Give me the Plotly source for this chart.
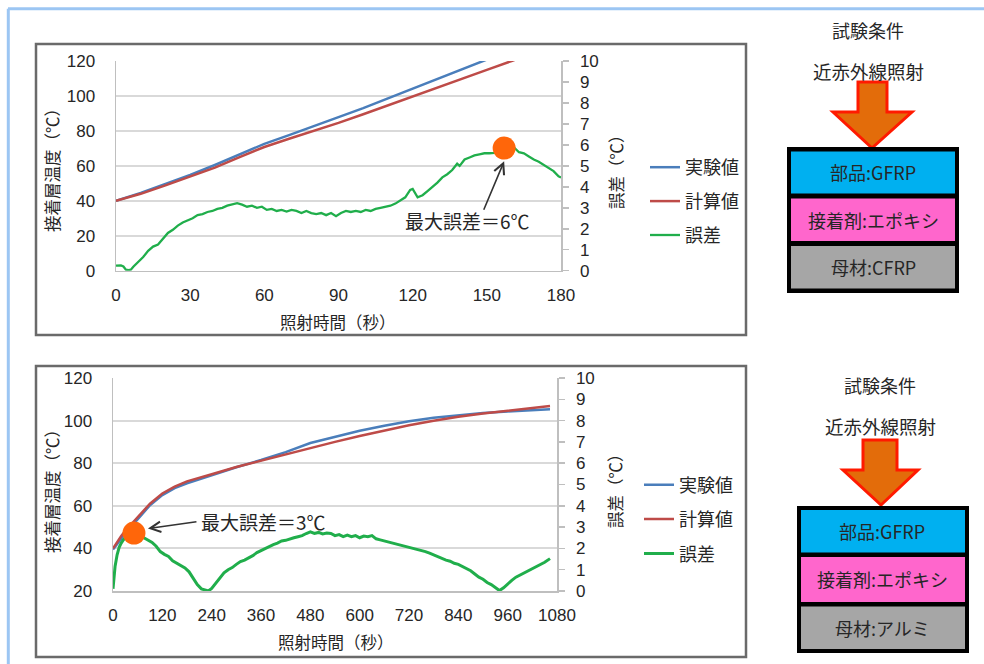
import plotly.graph_objects as go

W, H = 984, 664
JP = "Noto Sans CJK JP"
LAT = "Liberation Sans, Arial, sans-serif"

def px(x):
    return x / W

def py(y):
    return 1 - y / H

# ---------------- top chart data (CFRP) ----------------
top_x_ticks = [0, 30, 60, 90, 120, 150, 180]
top_temp_time = [0, 10, 20, 30, 40, 50, 60, 70, 80, 90, 100, 110, 120, 130, 140, 150, 160, 170, 180]
top_exp = [40, 44.5, 49.6, 54.8, 60.5, 66.5, 72.6, 77.6, 82.6, 87.6, 93.0, 98.6, 104.3, 109.8, 115.3, 121.0, 126.5, 132.0, 137.5]
top_calc = [40, 44.0, 48.8, 53.8, 59.0, 65.0, 70.8, 75.5, 80.0, 84.6, 89.5, 94.5, 99.6, 104.6, 109.8, 114.9, 120.0, 125.0, 130.0]
top_err_time = [0, 2, 3, 4, 5, 6, 7, 9, 11, 13, 15, 17, 19, 21, 23, 25, 27, 29, 31, 33, 35, 37, 39, 41, 43, 45, 47, 49,
                51, 53, 55, 57, 59, 61, 63, 65, 67, 69, 71, 73, 75, 77, 79, 81, 83, 85, 87, 89, 91, 93, 95, 97, 99,
                101, 103, 105, 107, 109, 111, 113, 115, 117, 119, 120, 122, 124, 126, 128, 130, 132, 134, 136, 138,
                139, 141, 143, 145, 147, 149, 151, 153, 155, 157, 159, 161, 163, 165, 167, 169, 171, 173, 175, 177,
                179, 180]
top_err = [0.24, 0.25, 0.2, 0.05, 0.03, 0.05, 0.19, 0.4, 0.65, 0.95, 1.15, 1.25, 1.5, 1.8, 1.95, 2.15, 2.3, 2.4, 2.5,
           2.65, 2.7, 2.8, 2.85, 2.95, 3.0, 3.1, 3.15, 3.22, 3.15, 3.05, 3.1, 3.0, 3.05, 2.9, 2.95, 2.85, 2.9, 2.82,
           2.9, 2.85, 2.75, 2.85, 2.75, 2.7, 2.75, 2.65, 2.75, 2.6, 2.75, 2.85, 2.8, 2.85, 2.8, 2.9, 2.85, 2.95,
           3.0, 3.05, 3.1, 3.2, 3.35, 3.5, 3.85, 3.9, 3.5, 3.6, 3.8, 4.0, 4.2, 4.45, 4.6, 4.8, 5.1, 5.0, 5.3, 5.4,
           5.5, 5.55, 5.6, 5.6, 5.62, 5.75, 5.85, 5.85, 5.88, 5.65, 5.6, 5.45, 5.3, 5.2, 5.05, 4.9, 4.75, 4.5, 4.45]
top_max_time = [157]
top_max_err = [5.85]

# ---------------- bottom chart data (Aluminium) ----------------
bot_x_ticks = [0, 120, 240, 360, 480, 600, 720, 840, 960, 1080]
bot_temp_time = [0, 10, 20, 30, 45, 60, 90, 120, 150, 180, 210, 240, 300, 360, 420, 480, 540, 600, 660,
                 720, 780, 840, 900, 960, 1020, 1063]
bot_exp = [39.5, 41.8, 44.5, 47.0, 50.3, 53.8, 60.3, 65.0, 68.3, 70.6, 72.5, 74.5, 78.1, 81.5, 85.2, 89.5,
           92.5, 95.2, 97.6, 99.7, 101.3, 102.6, 103.6, 104.3, 104.9, 105.3]
bot_calc = [40.0, 43.0, 45.8, 48.3, 51.5, 54.8, 61.0, 65.8, 69.0, 71.5, 73.0, 74.8, 78.2, 81.2, 84.2, 87.0,
            90.0, 92.8, 95.4, 97.8, 99.9, 101.8, 103.3, 104.6, 105.9, 106.9]
bot_err_time = [0, 3, 5, 10, 15, 20, 25, 35, 45, 55, 65, 75, 85, 95, 105, 115, 125, 135, 145, 155, 165, 175,
                185, 195, 205, 215, 225, 232, 240, 250, 260, 270, 280, 290, 300, 310, 320, 330, 340, 350, 360,
                370, 380, 390, 400, 410, 420, 430, 440, 450, 460, 470, 480, 490, 500, 510, 520, 530, 540, 550,
                560, 570, 580, 590, 600, 610, 620, 630, 640, 650, 660, 670, 680, 690, 700, 710, 720, 730, 740,
                750, 760, 770, 780, 790, 800, 810, 820, 830, 840, 850, 860, 870, 880, 890, 900, 910, 920, 930,
                940, 950, 960, 970, 980, 990, 1000, 1010, 1020, 1030, 1040, 1050, 1063]
bot_err = [0.1, 0.8, 1.15, 1.7, 2.05, 2.25, 2.4, 2.6, 2.7, 2.72, 2.6, 2.5, 2.38, 2.28, 2.1, 1.85, 1.72, 1.62,
           1.42, 1.3, 1.18, 1.08, 0.9, 0.6, 0.3, 0.1, 0.02, 0.0, 0.12, 0.35, 0.6, 0.85, 1.0, 1.1, 1.25, 1.38,
           1.45, 1.55, 1.66, 1.8, 1.9, 2.0, 2.1, 2.18, 2.25, 2.35, 2.38, 2.45, 2.5, 2.55, 2.6, 2.7, 2.78, 2.7,
           2.75, 2.68, 2.72, 2.7, 2.6, 2.65, 2.55, 2.62, 2.55, 2.6, 2.5, 2.58, 2.55, 2.6, 2.45, 2.4, 2.35, 2.3,
           2.25, 2.22, 2.15, 2.12, 2.05, 2.0, 1.98, 1.92, 1.85, 1.78, 1.7, 1.6, 1.55, 1.45, 1.4, 1.3, 1.25,
           1.15, 1.05, 0.95, 0.8, 0.65, 0.55, 0.4, 0.3, 0.15, 0.02, 0.15, 0.35, 0.5, 0.65, 0.75, 0.85, 0.95,
           1.05, 1.15, 1.25, 1.35, 1.52]
bot_max_time = [51]
bot_max_err = [2.72]

BLUE = "#4A7EBB"
RED = "#BE4B48"
GREEN = "#20AE4B"
ORANGE = "#FF660A"

fig = go.Figure()

# top chart traces
fig.add_trace(go.Scatter(x=top_temp_time, y=top_exp, name="実験値", mode="lines",
                         line=dict(color=BLUE, width=2.5), xaxis="x", yaxis="y",
                         legend="legend", legendgroup="a1"))
fig.add_trace(go.Scatter(x=top_temp_time, y=top_calc, name="計算値", mode="lines",
                         line=dict(color=RED, width=2.5), xaxis="x", yaxis="y",
                         legend="legend", legendgroup="a2"))
fig.add_trace(go.Scatter(x=top_err_time, y=top_err, name="誤差", mode="lines",
                         line=dict(color=GREEN, width=2.3), xaxis="x", yaxis="y2",
                         legend="legend", legendgroup="a3"))
fig.add_trace(go.Scatter(x=top_max_time, y=top_max_err, mode="markers", showlegend=False,
                         marker=dict(color=ORANGE, size=23, line=dict(width=0)),
                         xaxis="x", yaxis="y2", cliponaxis=False))

# bottom chart traces
fig.add_trace(go.Scatter(x=bot_temp_time, y=bot_exp, name="実験値", mode="lines",
                         line=dict(color=BLUE, width=2.5), xaxis="x2", yaxis="y3",
                         legend="legend2", legendgroup="b1"))
fig.add_trace(go.Scatter(x=bot_temp_time, y=bot_calc, name="計算値", mode="lines",
                         line=dict(color=RED, width=2.5), xaxis="x2", yaxis="y3",
                         legend="legend2", legendgroup="b2"))
fig.add_trace(go.Scatter(x=bot_err_time, y=bot_err, name="誤差", mode="lines",
                         line=dict(color=GREEN, width=3), xaxis="x2", yaxis="y4",
                         legend="legend2", legendgroup="b3"))
fig.add_trace(go.Scatter(x=bot_max_time, y=bot_max_err, mode="markers", showlegend=False,
                         marker=dict(color=ORANGE, size=23, line=dict(width=0)),
                         xaxis="x2", yaxis="y4", cliponaxis=False))

AXC = "#BFBFBF"
GRIDC = "#D9D9D9"
tickfont = dict(family=LAT, size=17, color="#262626")

common_x = dict(showline=True, linecolor=AXC, linewidth=1.5, showgrid=False, zeroline=False, automargin=False,
                ticks="", tickfont=tickfont, ticklabelstandoff=8, fixedrange=True)
common_yl = dict(showline=True, linecolor=AXC, linewidth=1.5, showgrid=True, gridcolor=GRIDC, automargin=False,
                 gridwidth=2, zeroline=False, ticks="", tickfont=tickfont, ticklabelstandoff=16)
common_yr = dict(showline=True, linecolor=AXC, linewidth=1.5, showgrid=False, zeroline=False, automargin=False,
                 ticks="outside", ticklen=6, tickcolor=AXC, tickwidth=1.5, tickfont=tickfont,
                 ticklabelstandoff=8, side="right")

fig.update_layout(
    width=W, height=H, autosize=False,
    margin=dict(l=0, r=0, t=0, b=0, pad=0, autoexpand=False),
    paper_bgcolor="white", plot_bgcolor="white",
    xaxis=dict(domain=[px(116), px(561)], range=[0, 180], tickvals=top_x_ticks, anchor="y", **common_x),
    yaxis=dict(domain=[py(270.7), py(61)], range=[0, 120], dtick=20, anchor="x", **common_yl),
    yaxis2=dict(overlaying="y", anchor="x", range=[0, 10], dtick=1, **common_yr),
    xaxis2=dict(domain=[px(113), px(557)], range=[0, 1080], tickvals=bot_x_ticks, anchor="y3", **common_x),
    yaxis3=dict(domain=[py(591), py(378)], range=[20, 120], dtick=20, anchor="x2", **common_yl),
    yaxis4=dict(overlaying="y3", anchor="x2", range=[0, 10], dtick=1, **common_yr),
    legend=dict(x=px(645), y=py(149), xanchor="left", yanchor="top", font=dict(family=JP, size=18, color="#262626"),
                bgcolor="rgba(0,0,0,0)", tracegroupgap=7.5, itemwidth=30),
    legend2=dict(x=px(639), y=py(466.5), xanchor="left", yanchor="top", font=dict(family=JP, size=18, color="#262626"),
                 bgcolor="rgba(0,0,0,0)", tracegroupgap=8, itemwidth=30),
    showlegend=True,
)

shapes = []
# outer light blue frame (open on the right/bottom as in the crop)
shapes.append(dict(type="line", xref="paper", yref="paper", x0=px(8), x1=px(984), y0=py(8.7), y1=py(8.7),
                   line=dict(color="#9CC6F3", width=3)))
shapes.append(dict(type="line", xref="paper", yref="paper", x0=px(8.3), x1=px(8.3), y0=py(8.7), y1=py(664),
                   line=dict(color="#9CC6F3", width=3)))
# chart panel borders
for (x0, y0, x1, y1) in [(36, 44, 746, 335), (36, 366, 746, 657)]:
    shapes.append(dict(type="rect", xref="paper", yref="paper", x0=px(x0), x1=px(x1), y0=py(y1), y1=py(y0),
                       line=dict(color="#6A6A6A", width=2.5), layer="below"))

def arrow_path(sx0, sx1, top, base, hx0, hx1, tipx, tipy):
    pts = [(sx0, top), (sx1, top), (sx1, base), (hx1, base), (tipx, tipy), (hx0, base), (sx0, base)]
    return "M " + " L ".join(f"{px(a):.5f},{py(b):.5f}" for a, b in pts) + " Z"

# diagram arrows
shapes.append(dict(type="path", xref="paper", yref="paper",
                   path=arrow_path(858, 887, 82, 112, 833, 912, 872, 148),
                   fillcolor="#E36C0A", line=dict(color="#FF1A00", width=3)))
shapes.append(dict(type="path", xref="paper", yref="paper",
                   path=arrow_path(863, 897, 440, 470, 843, 918, 881, 505),
                   fillcolor="#E36C0A", line=dict(color="#FF1A00", width=3)))

def layer_box(ox0, oy0, ox1, oy1, layers):
    out = [dict(type="rect", xref="paper", yref="paper", x0=px(ox0), x1=px(ox1), y0=py(oy1), y1=py(oy0),
                fillcolor="#000000", line=dict(width=0))]
    for (ly0, ly1, col) in layers:
        out.append(dict(type="rect", xref="paper", yref="paper", x0=px(ox0 + 4), x1=px(ox1 - 4),
                        y0=py(ly1), y1=py(ly0), fillcolor=col, line=dict(width=0)))
    return out

shapes += layer_box(787, 147, 959, 293, [(151.5, 193.5, "#00B0F0"), (198.5, 241, "#FF66CC"), (246, 288.5, "#A6A6A6")])
shapes += layer_box(797, 506, 969, 653, [(510, 552.5, "#00B0F0"), (557, 602, "#FF66CC"), (606.5, 649, "#A6A6A6")])

fig.update_layout(shapes=shapes)

ann = []
def txt(x, y, s, size=18, xanchor="center", family=JP, angle=0, color="#262626"):
    ann.append(dict(xref="paper", yref="paper", x=px(x), y=py(y), text=s, showarrow=False,
                    xanchor=xanchor, yanchor="middle", textangle=angle,
                    font=dict(family=family, size=size, color=color)))

# axis titles
txt(52, 166, "接着層温度（℃）", size=16.5, angle=-90)
txt(616, 168, "誤差（℃）", size=16.5, angle=-90)
txt(338, 322, "照射時間（秒）", size=16.5)
txt(52, 487, "接着層温度（℃）", size=16.5, angle=-90)
txt(615, 487, "誤差（℃）", size=16.5, angle=-90)
txt(336, 642, "照射時間（秒）", size=16.5)

# max error labels
txt(467, 221, "最大誤差＝6℃", size=19)
txt(199, 521, "最大誤差＝3℃", size=19, xanchor="left")

# arrows pointing to the markers
ann.append(dict(xref="x", yref="y2", x=157, y=5.22, ax=-21, ay=50, axref="pixel", ayref="pixel",
                text="", showarrow=True, arrowhead=5, arrowsize=1.3, arrowwidth=1.6, arrowcolor="#333333"))
ann.append(dict(xref="x2", yref="y4", x=85, y=2.93, ax=50, ay=-7, axref="pixel", ayref="pixel",
                text="", showarrow=True, arrowhead=5, arrowsize=1.3, arrowwidth=1.6, arrowcolor="#333333"))

# diagram texts
txt(868, 30, "試験条件", size=18)
txt(868, 71, "近赤外線照射", size=18.5)
txt(873, 172, "部品:GFRP", size=18)
txt(873, 220, "接着剤:エポキシ", size=18)
txt(873, 267, "母材:CFRP", size=18)
txt(880, 385, "試験条件", size=18)
txt(880, 426, "近赤外線照射", size=18.5)
txt(882, 531, "部品:GFRP", size=18)
txt(882, 579, "接着剤:エポキシ", size=18)
txt(882, 628, "母材:アルミ", size=18)

fig.update_layout(annotations=ann)

fig.write_html("out.html",
               config={"displayModeBar": False, "responsive": False, "staticPlot": True},
               post_script="document.body.style.margin='0';document.body.style.overflow='hidden';")
